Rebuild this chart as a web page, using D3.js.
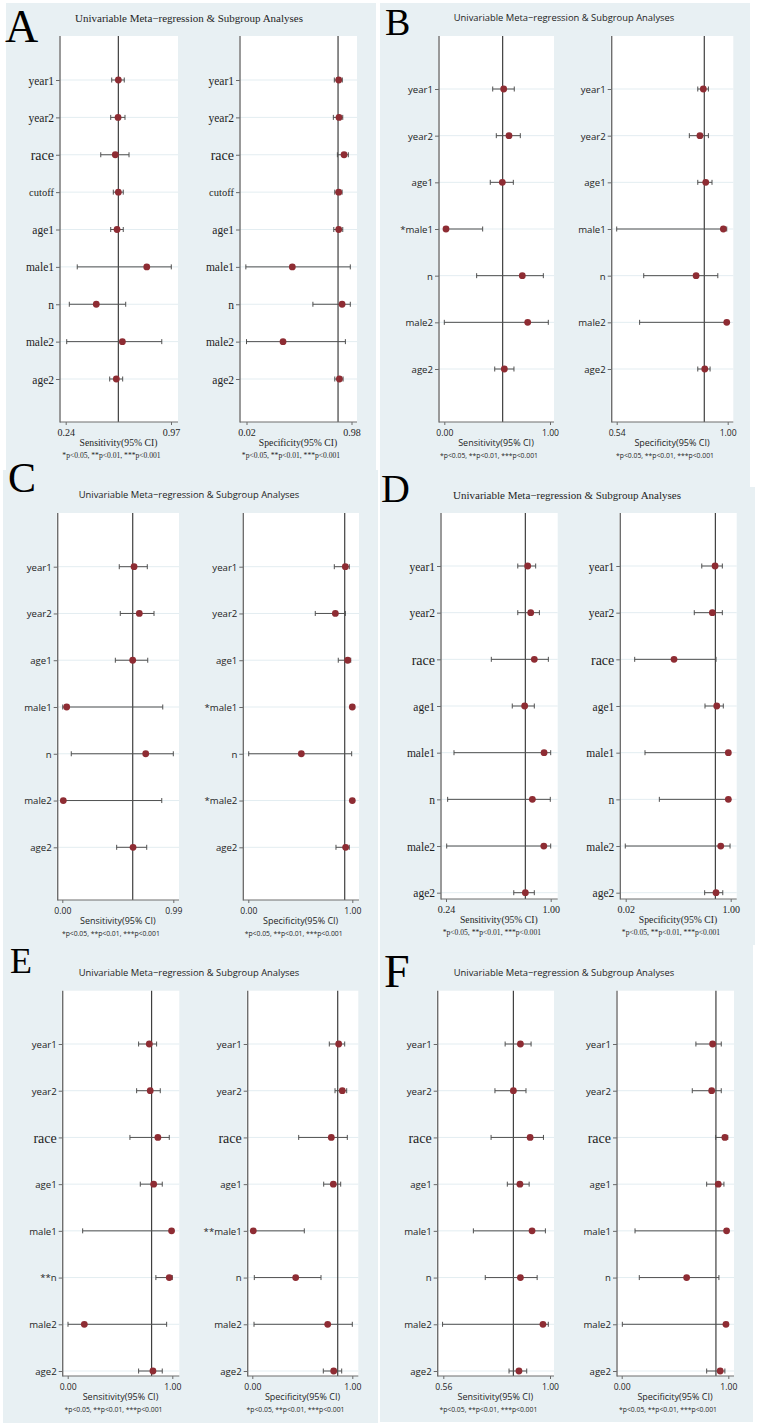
<!DOCTYPE html>
<html><head><meta charset="utf-8">
<script src="https://cdn.jsdelivr.net/npm/d3@7"></script>
<style>body{margin:0;background:#fff}svg{display:block}</style>
</head><body>
<svg id="chart" width="758" height="1427"></svg>
<script>
// ---------------- DATA ----------------
const TITLE = "Univariable Meta\u2212regression & Subgroup Analyses";
const SENS_TITLE = "Sensitivity(95% CI)";
const SPEC_TITLE = "Specificity(95% CI)";
const FOOTNOTE = "*p<0.05, **p<0.01, ***p<0.001";

// Panel A
const A_sensLabels = ["year1","year2","race","cutoff","age1","male1","n","male2","age2"];
const A_specLabels = ["year1","year2","race","cutoff","age1","male1","n","male2","age2"];
const A_sensEst = [0.605,0.603,0.584,0.605,0.596,0.802,0.452,0.633,0.591];
const A_sensLo  = [0.559,0.552,0.483,0.570,0.552,0.320,0.265,0.247,0.545];
const A_sensHi  = [0.646,0.651,0.679,0.639,0.639,0.972,0.656,0.906,0.635];
const A_specEst = [0.863,0.866,0.912,0.863,0.863,0.439,0.894,0.354,0.869];
const A_specLo  = [0.823,0.814,0.851,0.827,0.818,0.014,0.627,0.020,0.827];
const A_specHi  = [0.896,0.900,0.951,0.894,0.900,0.969,0.969,0.924,0.903];
const A_pooled = [0.605, 0.857];
const A_sensTicks = [0.24, 0.97];
const A_specTicks = [0.02, 0.98];

// Panel B
const B_sensLabels = ["year1","year2","age1","*male1","n","male2","age2"];
const B_specLabels = ["year1","year2","age1","male1","n","male2","age2"];
const B_sensEst = [0.562,0.612,0.549,0.016,0.738,0.789,0.568];
const B_sensLo  = [0.458,0.492,0.435,0.000,0.306,0.000,0.477];
const B_sensHi  = [0.662,0.719,0.653,0.363,0.937,0.984,0.659];
const B_specEst = [0.899,0.885,0.909,0.982,0.869,0.996,0.905];
const B_specLo  = [0.876,0.841,0.876,0.540,0.652,0.635,0.876];
const B_specHi  = [0.920,0.920,0.935,0.996,0.959,1.000,0.927];
const B_pooled = [0.552, 0.903];
const B_sensTicks = [0.00, 1.00];
const B_specTicks = [0.54, 1.00];

// Panel C
const C_sensLabels = ["year1","year2","age1","male1","n","male2","age2"];
const C_specLabels = ["year1","year2","age1","*male1","n","*male2","age2"];
const C_sensEst = [0.640,0.687,0.628,0.039,0.744,0.009,0.631];
const C_sensLo  = [0.508,0.517,0.473,0.004,0.080,0.000,0.485];
const C_sensHi  = [0.758,0.818,0.762,0.896,0.990,0.887,0.753];
const C_specEst = [0.933,0.837,0.956,1.000,0.510,1.000,0.936];
const C_specLo  = [0.827,0.644,0.865,0.996,0.004,0.996,0.843];
const C_specHi  = [0.971,0.933,0.985,1.000,0.994,1.000,0.971];
const C_pooled = [0.628, 0.927];
const C_sensTicks = [0.00, 0.99];
const C_specTicks = [0.00, 1.00];

// Panel D
const D_sensLabels = ["year1","year2","race","age1","male1","n","male2","age2"];
const D_specLabels = ["year1","year2","race","age1","male1","n","male2","age2"];
const D_sensEst = [0.833,0.855,0.881,0.811,0.952,0.867,0.950,0.816];
const D_sensLo  = [0.761,0.761,0.569,0.721,0.298,0.252,0.245,0.732];
const D_sensHi  = [0.891,0.918,0.983,0.881,1.000,0.997,1.000,0.881];
const D_specEst = [0.854,0.829,0.471,0.870,0.978,0.978,0.907,0.863];
const D_specLo  = [0.730,0.660,0.104,0.760,0.200,0.334,0.016,0.757];
const D_specHi  = [0.922,0.922,0.863,0.931,0.990,0.994,0.994,0.926];
const D_pooled = [0.816, 0.857];
const D_sensTicks = [0.24, 1.00];
const D_specTicks = [0.02, 1.00];

// Panel E
const E_sensLabels = ["year1","year2","race","age1","male1","**n","male2","age2"];
const E_specLabels = ["year1","year2","race","age1","**male1","n","male2","age2"];
const E_sensEst = [0.780,0.789,0.862,0.822,0.993,0.971,0.159,0.815];
const E_sensLo  = [0.678,0.659,0.595,0.694,0.143,0.843,0.003,0.678];
const E_sensHi  = [0.850,0.885,0.971,0.904,1.000,1.000,0.946,0.904];
const E_specEst = [0.864,0.900,0.790,0.810,0.010,0.434,0.754,0.814];
const E_specLo  = [0.770,0.827,0.464,0.714,0.000,0.020,0.017,0.710];
const E_specHi  = [0.924,0.944,0.950,0.884,0.520,0.687,1.000,0.894];
const E_pooled = [0.802, 0.854];
const E_sensTicks = [0.00, 1.00];
const E_specTicks = [0.00, 1.00];

// Panel F
const F_sensLabels = ["year1","year2","race","age1","male1","n","male2","age2"];
const F_specLabels = ["year1","year2","race","age1","male1","n","male2","age2"];
const F_sensEst = [0.878,0.849,0.918,0.876,0.926,0.878,0.971,0.872];
const F_sensLo  = [0.815,0.773,0.757,0.824,0.684,0.733,0.557,0.831];
const F_sensHi  = [0.922,0.901,0.973,0.914,0.981,0.947,0.993,0.904];
const F_specEst = [0.853,0.844,0.968,0.906,0.984,0.609,0.978,0.924];
const F_specLo  = [0.696,0.662,0.881,0.797,0.125,0.165,0.006,0.797];
const F_specHi  = [0.934,0.934,0.995,0.959,0.995,0.912,0.995,0.968];
const F_pooled = [0.849, 0.884];
const F_sensTicks = [0.56, 1.00];
const F_specTicks = [0.00, 1.00];

// ---------------- LAYOUT (positions / styles) ----------------
const SERIF = "'Liberation Serif','Times New Roman',serif";
const SANS = "'Open Sans','DejaVu Sans',sans-serif";
const BG = "#e8f0f3";
const layout = {
  A:{bg:[6,3,370,467], letter:[5,42,46], titleX:189, serif:true,
     top:36,bottom:422,row0:80,row1:379,
     L:{x0:59,x1:178,t0:65.7,t1:171}, R:{x0:239,x1:357,t0:246.5,t1:351.5}},
  B:{bg:[380,3,370,484], letter:[385,35,38], titleX:564, serif:false,
     top:36,bottom:422,row0:89,row1:369,
     L:{x0:438,x1:554,t0:444.3,t1:550}, R:{x0:610.7,x1:733.3,t0:616.7,t1:727.7}},
  C:{bg:[3,470,375,478], letter:[8,492,42], titleX:189, serif:false,
     top:513,bottom:900,row0:566.7,row1:847.3,
     L:{x0:56.7,x1:179,t0:62.3,t1:173.3}, R:{x0:242.3,x1:359,t0:248.3,t1:352.3}},
  D:{bg:[380,487,375,458], letter:[381,502,40], titleX:567, serif:true,
     top:513,bottom:899,row0:566,row1:892.7,
     L:{x0:440,x1:557.7,t0:446,t1:550.7}, R:{x0:619.3,x1:736.7,t0:625.7,t1:730.7}},
  E:{bg:[3,948,375,475], letter:[10,973,36], titleX:189, serif:false,
     top:990.7,bottom:1376,row0:1044,row1:1371,
     L:{x0:61.7,x1:179.3,t0:67.7,t1:172.3}, R:{x0:246.7,x1:358.3,t0:252.3,t1:352.3}},
  F:{bg:[380,945,373,477], letter:[384,987,46], titleX:564, serif:false,
     top:990.7,bottom:1376,row0:1044,row1:1371,
     L:{x0:436.7,x1:554,t0:443.3,t1:550}, R:{x0:616,x1:734,t0:621.7,t1:728.3}}
};

const panelData = {
  A:{sens:{labels:A_sensLabels,est:A_sensEst,lo:A_sensLo,hi:A_sensHi,pooled:A_pooled[0],ticks:A_sensTicks},
     spec:{labels:A_specLabels,est:A_specEst,lo:A_specLo,hi:A_specHi,pooled:A_pooled[1],ticks:A_specTicks}},
  B:{sens:{labels:B_sensLabels,est:B_sensEst,lo:B_sensLo,hi:B_sensHi,pooled:B_pooled[0],ticks:B_sensTicks},
     spec:{labels:B_specLabels,est:B_specEst,lo:B_specLo,hi:B_specHi,pooled:B_pooled[1],ticks:B_specTicks}},
  C:{sens:{labels:C_sensLabels,est:C_sensEst,lo:C_sensLo,hi:C_sensHi,pooled:C_pooled[0],ticks:C_sensTicks},
     spec:{labels:C_specLabels,est:C_specEst,lo:C_specLo,hi:C_specHi,pooled:C_pooled[1],ticks:C_specTicks}},
  D:{sens:{labels:D_sensLabels,est:D_sensEst,lo:D_sensLo,hi:D_sensHi,pooled:D_pooled[0],ticks:D_sensTicks},
     spec:{labels:D_specLabels,est:D_specEst,lo:D_specLo,hi:D_specHi,pooled:D_pooled[1],ticks:D_specTicks}},
  E:{sens:{labels:E_sensLabels,est:E_sensEst,lo:E_sensLo,hi:E_sensHi,pooled:E_pooled[0],ticks:E_sensTicks},
     spec:{labels:E_specLabels,est:E_specEst,lo:E_specLo,hi:E_specHi,pooled:E_pooled[1],ticks:E_specTicks}},
  F:{sens:{labels:F_sensLabels,est:F_sensEst,lo:F_sensLo,hi:F_sensHi,pooled:F_pooled[0],ticks:F_sensTicks},
     spec:{labels:F_specLabels,est:F_specEst,lo:F_specLo,hi:F_specHi,pooled:F_pooled[1],ticks:F_specTicks}}
};

// ---------------- DRAW ----------------
const svg = d3.select("#chart");
const fmt = d3.format(".2f");

function drawPlot(g, p, c, d, axisTitle) {
  const font = p.serif ? SERIF : SANS;
  const x = d3.scaleLinear().domain(d.ticks).range([c.t0, c.t1]);
  const idx = d3.range(d.labels.length);
  const y = d3.scalePoint().domain(idx).range([p.row0, p.row1]);

  g.append("rect").attr("x", c.x0).attr("y", p.top)
    .attr("width", c.x1 - c.x0).attr("height", p.bottom - p.top).attr("fill", "#fff");

  // grid lines
  g.append("g").selectAll("line").data(idx).join("line")
    .attr("x1", c.x0).attr("x2", c.x1)
    .attr("y1", i => y(i)).attr("y2", i => y(i))
    .attr("stroke", "#e3edf1").attr("stroke-width", 1);

  // pooled reference line
  g.append("line").attr("x1", x(d.pooled)).attr("x2", x(d.pooled))
    .attr("y1", p.top).attr("y2", p.bottom)
    .attr("stroke", "#3f3f3f").attr("stroke-width", 1.2);

  // y axis
  const ya = d3.axisLeft(y).tickSize(4).tickFormat(i => d.labels[i]);
  const yg = g.append("g").attr("transform", `translate(${c.x0 + 1},0)`).call(ya);
  yg.select(".domain").remove();
  yg.selectAll(".tick line").attr("stroke", "#6a6a6a");
  yg.selectAll(".tick text")
    .attr("x", -6).attr("dy", "0.35em")
    .attr("fill", "#1e1e1e")
    .attr("font-family", i => (d.labels[i] === "race" || p.serif) ? SERIF : SANS)
    .attr("font-size", i => d.labels[i] === "race" ? 14 : (d.labels[i] === "cutoff" ? 10.5 : (p.serif ? 11.5 : 9.6)));
  g.append("line").attr("x1", c.x0 + 1).attr("x2", c.x0 + 1)
    .attr("y1", p.top).attr("y2", p.bottom + 0.5)
    .attr("stroke", "#6e6e6e").attr("stroke-width", 1.4);

  // x axis
  const xa = d3.axisBottom(x).tickValues(d.ticks).tickFormat(fmt).tickSize(3);
  const xg = g.append("g").attr("transform", `translate(0,${p.bottom})`).call(xa);
  xg.select(".domain").remove();
  xg.selectAll(".tick line").attr("stroke", "#6a6a6a");
  xg.selectAll(".tick text").attr("y", 10.7).attr("dy", "0.35em")
    .attr("fill", "#1e1e1e").attr("font-family", font)
    .attr("font-size", p.serif ? 10 : 8.6);
  g.append("line").attr("x1", c.x0 + 1).attr("x2", c.x1)
    .attr("y1", p.bottom).attr("y2", p.bottom)
    .attr("stroke", "#6e6e6e").attr("stroke-width", 1.2);

  // confidence intervals
  const ci = g.append("g").attr("stroke", "#505050").attr("stroke-width", 1);
  ci.selectAll("line.ci").data(idx).join("line").attr("class", "ci")
    .attr("x1", i => x(d.lo[i])).attr("x2", i => x(d.hi[i]))
    .attr("y1", i => y(i)).attr("y2", i => y(i));
  ci.selectAll("line.capl").data(idx).join("line").attr("class", "capl")
    .attr("x1", i => x(d.lo[i])).attr("x2", i => x(d.lo[i]))
    .attr("y1", i => y(i) - 2.5).attr("y2", i => y(i) + 2.5);
  ci.selectAll("line.caph").data(idx).join("line").attr("class", "caph")
    .attr("x1", i => x(d.hi[i])).attr("x2", i => x(d.hi[i]))
    .attr("y1", i => y(i) - 2.5).attr("y2", i => y(i) + 2.5);

  // point estimates
  g.append("g").selectAll("circle").data(idx).join("circle")
    .attr("cx", i => x(d.est[i])).attr("cy", i => y(i)).attr("r", 3.4)
    .attr("fill", "#8e2c33");

  // axis title & footnote
  const cx = (c.x0 + c.x1) / 2;
  g.append("text").text(axisTitle).attr("x", cx).attr("y", p.bottom + 21)
    .attr("dy", "0.35em").attr("text-anchor", "middle")
    .attr("font-family", font).attr("font-size", p.serif ? 9.7 : 9).attr("fill", "#1e1e1e");
  g.append("text").text(FOOTNOTE).attr("x", cx - 7).attr("y", p.bottom + 33.5)
    .attr("dy", "0.35em").attr("text-anchor", "middle")
    .attr("font-family", font).attr("font-size", p.serif ? 7.6 : 6.8).attr("fill", "#1e1e1e");
}

Object.keys(layout).forEach(key => {
  const p = layout[key], d = panelData[key];
  const g = svg.append("g");
  g.append("rect").attr("x", p.bg[0]).attr("y", p.bg[1])
    .attr("width", p.bg[2]).attr("height", p.bg[3]).attr("fill", BG);
  drawPlot(g, p, p.L, d.sens, SENS_TITLE);
  drawPlot(g, p, p.R, d.spec, SPEC_TITLE);
  g.append("text").text(TITLE).attr("x", p.titleX).attr("y", p.top - 18)
    .attr("dy", "0.35em").attr("text-anchor", "middle")
    .attr("font-family", p.serif ? SERIF : SANS)
    .attr("font-size", p.serif ? 11 : 9.4).attr("fill", "#1e1e1e");
  g.append("text").text(key).attr("x", p.letter[0]).attr("y", p.letter[1])
    .attr("font-family", SERIF).attr("font-size", p.letter[2]).attr("fill", "#000");
});
</script>
</body></html>
